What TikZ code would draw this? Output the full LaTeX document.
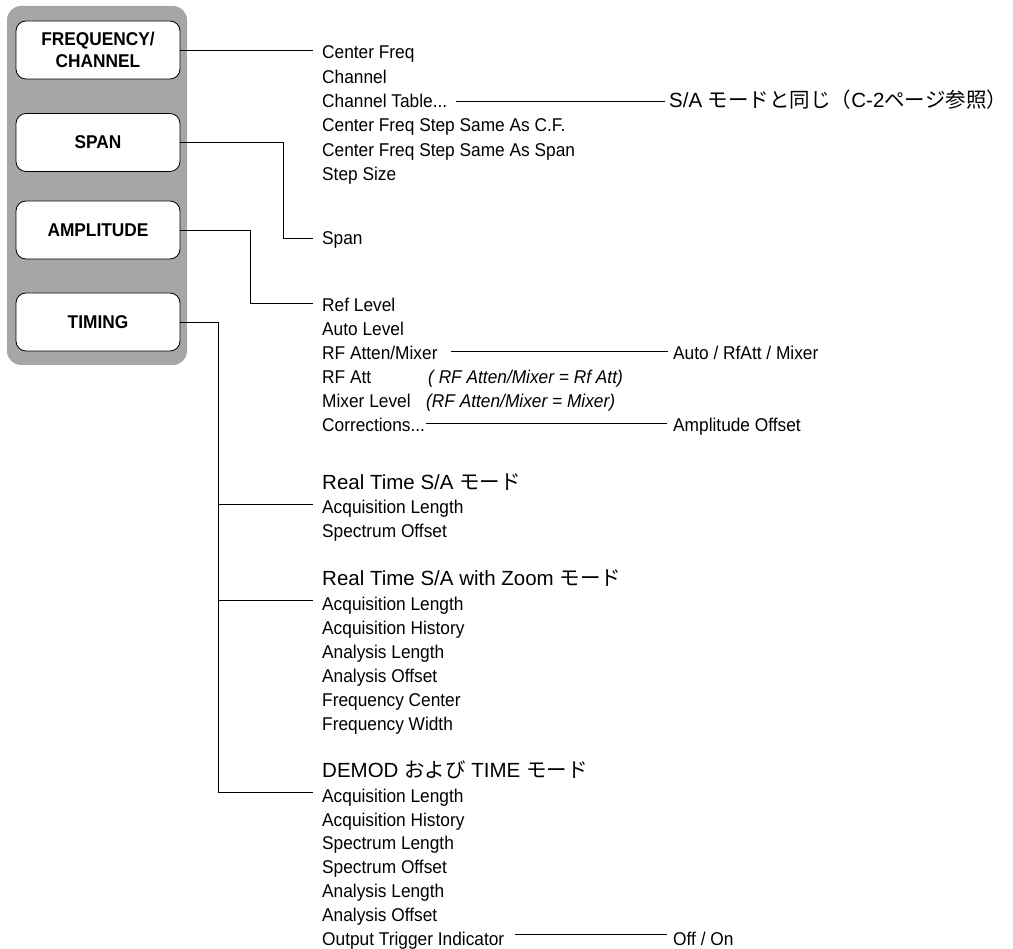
\documentclass[tikz,border=0pt]{standalone}
\usepackage{fontspec}
\setmainfont{Liberation Sans}[FakeStretch=0.935]
\newfontfamily\hdrfont{Liberation Sans}
\newfontfamily\jpfont{Noto Sans CJK JP}
\definecolor{panelgray}{RGB}{166,166,166}
\begin{document}
\begin{tikzpicture}[x=1pt,y=-1pt,
  item/.style={anchor=base west, inner sep=0pt, font=\fontsize{18.5}{22}\selectfont},
  itemit/.style={item, font=\fontsize{18.5}{22}\selectfont\itshape},
  hdr/.style={anchor=base west, inner sep=0pt, font=\fontsize{20.5}{24}\selectfont\hdrfont},
  btn/.style={draw=black, line width=0.8pt, fill=white, rounded corners=10pt,
    minimum width=164pt, minimum height=58pt, align=center, inner sep=0pt,
    font=\fontsize{18.5}{22}\selectfont\bfseries},
  conn/.style={draw=black, line width=0.8pt},
]
\useasboundingbox (0,0) rectangle (1013,949);
\fill[panelgray, rounded corners=14pt] (7,6) rectangle (187,365);

% buttons
\node[btn] (freq) at (98,50) {FREQUENCY/\\CHANNEL};
\node[btn] (span) at (98,142.5) {SPAN};
\node[btn] (amp) at (98,230) {AMPLITUDE};
\node[btn] (timing) at (98,322) {TIMING};

% frequency group
\node[item] (cf) at (322,59) {Center Freq};
\node[item] (ch) at (322,83.3) {Channel};
\node[item] (ct) at (322,107.6) {Channel Table...};
\node[item] (cfs) at (322,131.9) {Center Freq Step Same As C.F.};
\node[item] (cfsp) at (322,156.2) {Center Freq Step Same As Span};
\node[item] (ss) at (322,180.5) {Step Size};
\node[hdr] (sa) at (669,107.6) {S/A {\jpfont モードと同じ（}C-2{\jpfont ページ参照）}};

% span
\node[item] (spanitem) at (322,245) {Span};

% amplitude group
\node[item] (ref) at (322,312) {Ref Level};
\node[item] (al) at (322,336) {Auto Level};
\node[item] (rfam) at (322,360) {RF Atten/Mixer};
\node[item] (rfa) at (322,384) {RF Att};
\node[item] (ml) at (322,408) {Mixer Level};
\node[item] (corr) at (322,432) {Corrections...};
\node[itemit] (rfanote) at (428,384) {( RF Atten/Mixer = Rf Att)};
\node[itemit] (mlnote) at (426,408) {(RF Atten/Mixer = Mixer)};
\node[item] (auto) at (673,360) {Auto / RfAtt / Mixer};
\node[item] (ao) at (673,432) {Amplitude Offset};

% timing: real time S/A
\node[hdr] (rth) at (322,490) {Real Time S/A {\jpfont モード}};
\node[item] (racq) at (322,514) {Acquisition Length};
\node[item] (rso) at (322,538) {Spectrum Offset};

% timing: real time S/A with zoom
\node[hdr] (rzh) at (322,586) {Real Time S/A with Zoom {\jpfont モード}};
\node[item] (zacq) at (322,610.5) {Acquisition Length};
\node[item] (zah) at (322,634.5) {Acquisition History};
\node[item] (zal) at (322,658.5) {Analysis Length};
\node[item] (zao) at (322,682) {Analysis Offset};
\node[item] (zfc) at (322,706) {Frequency Center};
\node[item] (zfw) at (322,730) {Frequency Width};

% timing: demod and time
\node[hdr] (dh) at (322,777) {DEMOD {\jpfont および} TIME {\jpfont モード}};
\node[item] (dacq) at (322,802) {Acquisition Length};
\node[item] (dah) at (322,826) {Acquisition History};
\node[item] (dsl) at (322,849.5) {Spectrum Length};
\node[item] (dso) at (322,873) {Spectrum Offset};
\node[item] (dal) at (322,897.5) {Analysis Length};
\node[item] (dao) at (322,921) {Analysis Offset};
\node[item] (oti) at (322,945) {Output Trigger Indicator};
\node[item] (offon) at (673,945) {Off / On};

% connectors from buttons
\draw[conn] (freq.east) -- ([xshift=-9pt]freq.east -| cf.west);
\draw[conn] (span.east) -| ([xshift=-39pt,yshift=7pt]spanitem.base west)
  -- ([xshift=-9pt,yshift=7pt]spanitem.base west);
\draw[conn] (amp.east) -| ([xshift=-72pt,yshift=9pt]ref.base west)
  -- ([xshift=-9pt,yshift=9pt]ref.base west);
\draw[conn] (timing.east) -| ([xshift=-104pt,yshift=10pt]dacq.base west)
  -- ([xshift=-9pt,yshift=10pt]dacq.base west);
\draw[conn] ([xshift=-104pt,yshift=10pt]racq.base west)
  -- ([xshift=-9pt,yshift=10pt]racq.base west);
\draw[conn] ([xshift=-104pt,yshift=10pt]zacq.base west)
  -- ([xshift=-9pt,yshift=10pt]zacq.base west);

% connectors to right column
\draw[conn] ([xshift=9pt,yshift=6pt]ct.base east) -- ([xshift=-4pt,yshift=6pt]sa.base west);
\draw[conn] ([xshift=13pt,yshift=9pt]rfam.base east) -- ([xshift=-5pt,yshift=9pt]auto.base west);
\draw[conn] ([xshift=1pt,yshift=9pt]corr.base east) -- ([xshift=-6pt,yshift=9pt]ao.base west);
\draw[conn] ([xshift=11pt,yshift=11pt]oti.base east) -- ([xshift=-6pt,yshift=11pt]offon.base west);
\end{tikzpicture}
\end{document}
